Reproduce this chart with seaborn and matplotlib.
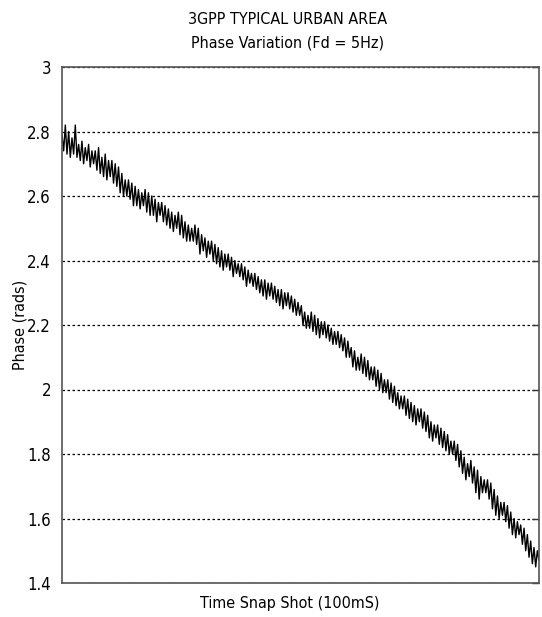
import matplotlib
matplotlib.use("Agg")
import matplotlib.pyplot as plt
import numpy as np
import pandas as pd
import seaborn as sns

# Phase samples (left to right, dense noisy band)
phase_rads = [
    2.79, 2.74, 2.82, 2.73, 2.80, 2.72, 2.78, 2.73, 2.82, 2.72,
    2.76, 2.71, 2.77, 2.70, 2.75, 2.71, 2.76, 2.69, 2.74, 2.70,
    2.74, 2.68, 2.75, 2.67, 2.72, 2.66, 2.73, 2.65, 2.71, 2.66,
    2.71, 2.64, 2.70, 2.63, 2.69, 2.61, 2.67, 2.60, 2.65, 2.60,
    2.65, 2.59, 2.64, 2.57, 2.63, 2.57, 2.62, 2.56, 2.61, 2.57,
    2.62, 2.55, 2.61, 2.54, 2.60, 2.54, 2.59, 2.52, 2.58, 2.54,
    2.58, 2.52, 2.57, 2.51, 2.56, 2.50, 2.55, 2.49, 2.54, 2.50,
    2.55, 2.48, 2.54, 2.47, 2.52, 2.46, 2.51, 2.46, 2.50, 2.46,
    2.51, 2.45, 2.50, 2.42, 2.48, 2.43, 2.47, 2.41, 2.46, 2.42,
    2.46, 2.40, 2.45, 2.39, 2.44, 2.38, 2.43, 2.37, 2.42, 2.38,
    2.42, 2.37, 2.41, 2.35, 2.40, 2.36, 2.39, 2.35,
    2.39, 2.34, 2.38, 2.32, 2.37, 2.33, 2.36, 2.32,
    2.36, 2.31, 2.35, 2.30, 2.34, 2.29, 2.34, 2.28, 2.33, 2.29,
    2.33, 2.28, 2.32, 2.27, 2.31, 2.26, 2.31, 2.25, 2.30, 2.26,
    2.30, 2.25, 2.29, 2.24, 2.28, 2.23, 2.27, 2.23,
    2.26, 2.20, 2.24, 2.19, 2.23, 2.19,
    2.24, 2.18, 2.23, 2.17, 2.22, 2.16, 2.21, 2.17,
    2.21, 2.16, 2.20, 2.15, 2.19, 2.14, 2.18, 2.14,
    2.18, 2.13, 2.17, 2.12, 2.16, 2.10, 2.15, 2.10,
    2.13, 2.07, 2.12, 2.06, 2.10, 2.06,
    2.11, 2.05, 2.10, 2.04, 2.09, 2.03, 2.07, 2.03,
    2.07, 2.01, 2.06, 2.00, 2.05, 1.99, 2.03, 1.99,
    2.03, 1.97, 2.02, 1.96, 2.01, 1.95, 1.99, 1.94, 1.98, 1.94,
    1.98, 1.92, 1.97, 1.91, 1.96, 1.90, 1.95, 1.89, 1.94, 1.90,
    1.94, 1.88, 1.93, 1.87, 1.92, 1.85, 1.90, 1.84, 1.89, 1.85,
    1.89, 1.83, 1.88, 1.82, 1.87, 1.81, 1.86, 1.80, 1.84, 1.80,
    1.84, 1.78, 1.83, 1.76, 1.81, 1.74, 1.79, 1.72, 1.77, 1.73,
    1.78, 1.71, 1.76, 1.68, 1.75, 1.66, 1.73, 1.68, 1.72, 1.68,
    1.72, 1.66, 1.71, 1.63, 1.69, 1.61, 1.67, 1.60, 1.65, 1.61,
    1.65, 1.59, 1.64, 1.57, 1.62, 1.55, 1.60, 1.54, 1.59, 1.55,
    1.58, 1.52, 1.57, 1.50, 1.55, 1.48, 1.53, 1.46, 1.51, 1.45, 1.50, 1.47,
]
y_ticks = [1.4, 1.6, 1.8, 2.0, 2.2, 2.4, 2.6, 2.8, 3.0]
y_tick_labels = ["1.4", "1.6", "1.8", "2", "2.2", "2.4", "2.6", "2.8", "3"]

df = pd.DataFrame({"snap": np.arange(len(phase_rads)), "phase": phase_rads})

sns.set_style("white")
plt.rcParams["font.family"] = ["DejaVu Sans"]
plt.rcParams["font.stretch"] = "condensed"
plt.rcParams["text.color"] = "black"
plt.rcParams["axes.labelcolor"] = "black"

fig = plt.figure(figsize=(5.42, 6.17), dpi=100)
ax = fig.add_axes([62 / 542, 1 - 583 / 617, (539 - 62) / 542, (583 - 67) / 617])

sns.lineplot(data=df, x="snap", y="phase", ax=ax, color="black", linewidth=1.0)

ax.set_xlim(0, len(phase_rads) - 1)
ax.set_ylim(1.4, 3.0)
ax.set_yticks(y_ticks)
ax.set_yticklabels(y_tick_labels)
ax.set_xticks([])
ax.yaxis.grid(True, color="black", linestyle=(0, (2, 2)), linewidth=0.9)
ax.tick_params(axis="y", direction="in", right=True, length=5, width=1,
               labelsize=12, colors="#333333", labelcolor="black", pad=8)
for s in ax.spines.values():
    s.set_color("#555555")
    s.set_linewidth(1.2)

ax.set_xlabel("Time Snap Shot (100mS)", fontsize=11.5)
ax.xaxis.set_label_coords(0.478, -0.026)
ax.set_ylabel("Phase (rads)", fontsize=11.5)
ax.yaxis.set_label_coords(-0.072, 0.5)

fig.text(288 / 542, 1 - 20 / 617, "3GPP TYPICAL URBAN AREA", ha="center", va="center", fontsize=11.5)
fig.text(288 / 542, 1 - 43 / 617, "Phase Variation (Fd = 5Hz)", ha="center", va="center", fontsize=11.5)

fig.savefig("out.png", dpi=100)
